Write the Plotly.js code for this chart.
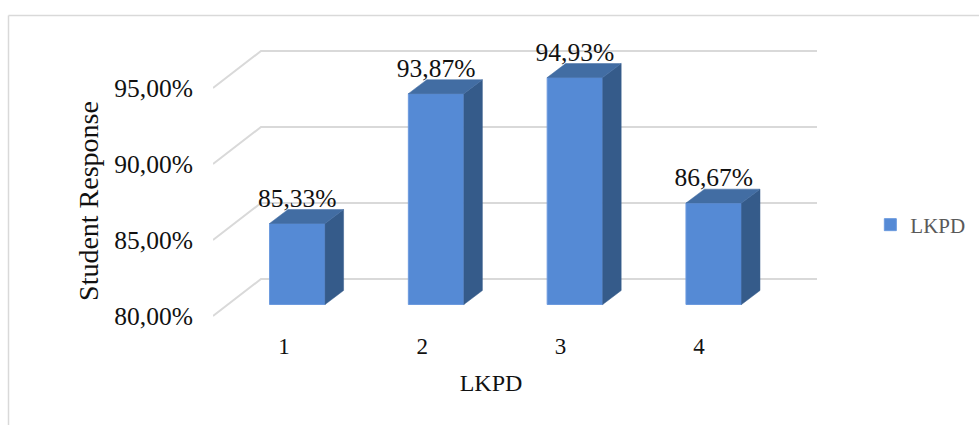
<!DOCTYPE html>
<html>
<head>
<meta charset="utf-8">
<script src="https://cdn.plot.ly/plotly-3.0.1.min.js"></script>
<style>html,body{margin:0;padding:0;background:#fff}</style>
</head>
<body>
<div id="chart" style="width:979px;height:425px"></div>
<script>
var categories = [1, 2, 3, 4];
var responses = [85.33, 93.87, 94.93, 86.67];
var gridValues = [80, 85, 90, 95];
var gridLabels = ['80,00%', '85,00%', '90,00%', '95,00%'];
var seriesName = 'LKPD';
var xTitle = 'LKPD';
var yTitle = 'Student Response';

var FONT = '"Liberation Serif", serif';
var barWidth = 0.4, depthX = 0.1333, depthY = 0.921, base = 80;
var wallFrontX = 0.3926, wallBackX = 0.7384, wallEndX = 4.744;
var wallShift = -0.7566, wallDepthY = 2.434, labelLift = 1.52;

var traces = [];
traces.push({type:'scatter', x:categories, y:gridValues, xaxis:'x', yaxis:'y', mode:'none', showlegend:false, hoverinfo:'skip'});

gridValues.forEach(function(v){
  traces.push({type:'scatter', xaxis:'x2', yaxis:'y2', mode:'lines', showlegend:false, hoverinfo:'skip',
    x:[wallFrontX, wallBackX, wallEndX],
    y:[v+wallShift, v+wallShift+wallDepthY, v+wallShift+wallDepthY],
    line:{color:'#d9d9d9', width:2}});
});

traces.push({type:'bar', name:seriesName, xaxis:'x3', yaxis:'y3', x:categories,
  y:responses.map(function(v){return v-base;}), base:base, width:barWidth,
  marker:{color:'#558ad5', line:{color:'#6c9ade', width:1}}, showlegend:true});

categories.forEach(function(c, i){
  var v = responses[i], x0 = c-barWidth/2, x1 = c+barWidth/2;
  traces.push({type:'scatter', xaxis:'x3', yaxis:'y3', mode:'lines', fill:'toself', showlegend:false, hoverinfo:'skip',
    x:[x1, x1+depthX, x1+depthX, x1, x1], y:[base, base+depthY, v+depthY, v, base],
    fillcolor:'#355b8a', line:{color:'#355b8a', width:0.5}});
  traces.push({type:'scatter', xaxis:'x3', yaxis:'y3', mode:'lines', fill:'toself', showlegend:false, hoverinfo:'skip',
    x:[x0, x1, x1+depthX, x0+depthX, x0], y:[v, v, v+depthY, v+depthY, v],
    fillcolor:'#426da3', line:{color:'#426da3', width:0.5}});
});

traces.push({type:'scatter', xaxis:'x3', yaxis:'y3', mode:'text', showlegend:false, hoverinfo:'skip',
  x:categories, y:responses.map(function(v){return v+labelLift;}),
  text:responses.map(function(v){return v.toFixed(2).replace('.',',')+'%';}),
  textposition:'middle center', textfont:{family:FONT, size:25.5, color:'#111'}, cliponaxis:false});

var hiddenX = {domain:[0.0736,1], range:[wallFrontX, wallEndX], visible:false, fixedrange:true};
var hiddenY = {domain:[0,1], range:[78.586,97.402], visible:false, fixedrange:true};

var layout = {
  width:979, height:425, paper_bgcolor:'#fff', plot_bgcolor:'rgba(0,0,0,0)',
  margin:{l:165, r:162, t:40, b:99}, separators:',.',
  font:{family:FONT, color:'#111'},
  xaxis:{domain:[0,1], range:[0.1396, 4.854], tickmode:'array', tickvals:categories, ticktext:categories.map(String),
    showgrid:false, zeroline:false, showline:false, ticks:'', ticklabelstandoff:4,
    tickfont:{family:FONT, size:23, color:'#111'}, anchor:'y',
    title:{text:xTitle, font:{family:FONT, size:24, color:'#111'}, standoff:16}},
  yaxis:{domain:[0,0.8741], range:[79.342,95.789], tickmode:'array', tickvals:gridValues, ticktext:gridLabels,
    showgrid:false, zeroline:false, showline:false, ticks:'outside', ticklen:15, tickcolor:'rgba(0,0,0,0)',
    tickfont:{family:FONT, size:25.5, color:'#111'}, anchor:'free', position:0.0736,
    title:{text:yTitle, font:{family:FONT, size:28, color:'#111'}, standoff:6}},
  xaxis2:Object.assign({anchor:'y2'}, hiddenX),
  yaxis2:Object.assign({anchor:'x2'}, hiddenY),
  xaxis3:Object.assign({anchor:'y3'}, hiddenX),
  yaxis3:Object.assign({anchor:'x3'}, hiddenY),
  legend:{xref:'container', yref:'container', x:0.889, xanchor:'left', y:0.4706, yanchor:'middle',
    font:{family:FONT, size:21, color:'#595959'}, bgcolor:'rgba(0,0,0,0)', itemwidth:30},
  shapes:[
    {type:'line', xref:'paper', yref:'paper', x0:(8.5-165)/652, x1:(8.5-165)/652, y0:-99/286, y1:(326-15.5)/286, line:{color:'#d9d9d9', width:1.5}},
    {type:'line', xref:'paper', yref:'paper', x0:(8.5-165)/652, x1:(985-165)/652, y0:(326-15.5)/286, y1:(326-15.5)/286, line:{color:'#d9d9d9', width:1.5}}
  ]
};
Plotly.newPlot('chart', traces, layout, {displayModeBar:false, responsive:false});
</script>
</body>
</html>
